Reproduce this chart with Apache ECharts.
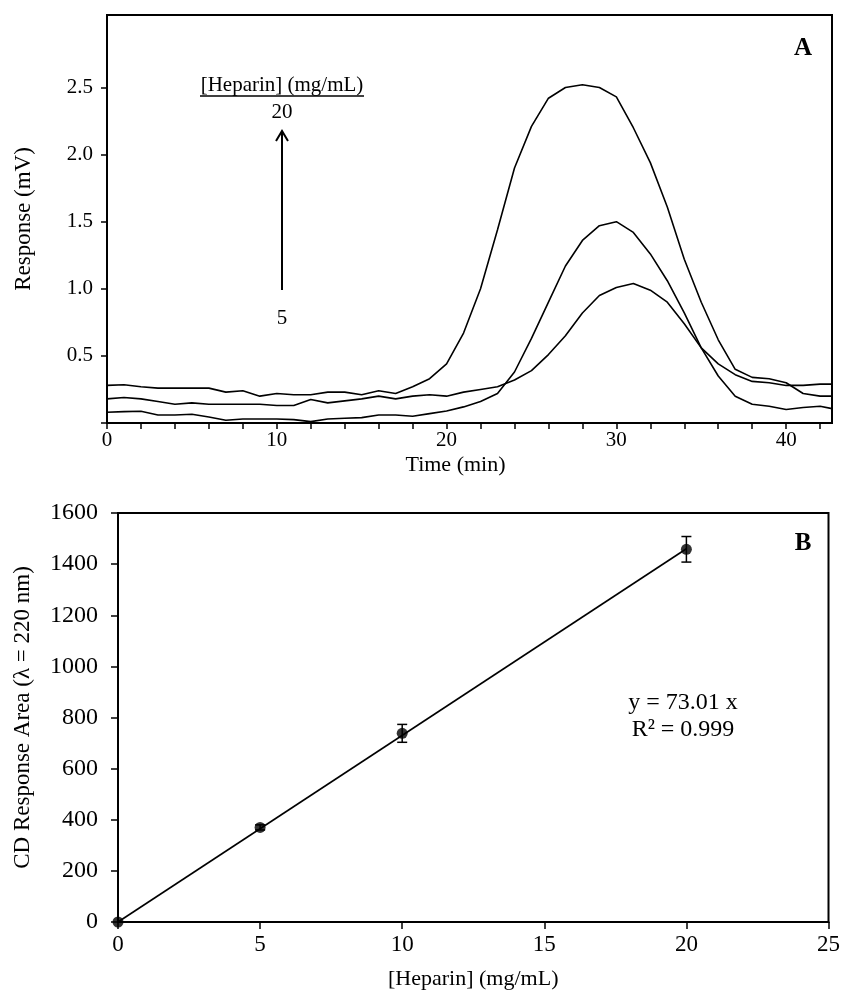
<!DOCTYPE html>
<html>
<head>
<meta charset="utf-8">
<script src="https://cdn.jsdelivr.net/npm/echarts@6/dist/echarts.min.js"></script>
<style>
html,body{margin:0;padding:0;background:#fff;}
#chart{width:843px;height:999px;}
</style>
</head>
<body>
<div id="chart"></div>
<script>
// ---- Panel A: chromatograms (Time in min, Response in mV) ----
const time = [0,1,2,3,4,5,6,7,8,9,10,11,12,13,14,15,16,17,18,19,20,21,22,23,24,25,26,27,28,29,30,31,32,33,34,35,36,37,38,39,40,41,42,42.7];
const resp20 = [0.28,0.285,0.27,0.26,0.26,0.26,0.26,0.23,0.24,0.20,0.22,0.21,0.21,0.23,0.23,0.21,0.24,0.22,0.27,0.33,0.44,0.67,1.00,1.44,1.90,2.21,2.42,2.50,2.52,2.50,2.43,2.20,1.94,1.61,1.22,0.90,0.62,0.40,0.34,0.33,0.30,0.22,0.20,0.20];
const resp10 = [0.08,0.085,0.087,0.06,0.06,0.065,0.045,0.02,0.03,0.03,0.03,0.025,0.01,0.03,0.035,0.04,0.06,0.06,0.05,0.07,0.09,0.12,0.16,0.22,0.38,0.63,0.90,1.17,1.36,1.47,1.50,1.42,1.26,1.06,0.82,0.56,0.35,0.20,0.14,0.125,0.10,0.115,0.125,0.107];
const resp5 = [0.18,0.19,0.18,0.16,0.14,0.15,0.14,0.14,0.14,0.14,0.13,0.13,0.175,0.15,0.165,0.18,0.20,0.18,0.20,0.21,0.20,0.23,0.25,0.27,0.32,0.39,0.51,0.65,0.82,0.95,1.01,1.04,0.99,0.90,0.74,0.56,0.44,0.36,0.31,0.30,0.28,0.28,0.29,0.29];
const timeTicks = [0,2,4,6,8,10,12,14,16,18,20,22,24,26,28,30,32,34,36,38,40,42];
const timeTickLabels = [0,10,20,30,40];
const respTicks = [0,0.5,1.0,1.5,2.0,2.5];
const respTickLabels = [0.5,1.0,1.5,2.0,2.5];

// ---- Panel B: calibration ----
const heparinConc = [0,5,10,20];
const cdArea = [0,370,738,1458];
const cdErr = [0,10,35,50];
const fitSlope = 73.01;
const fitR2 = 0.999;
const fitRange = [0,20];

const FONT = 'Liberation Serif';
const black = '#000';

const chart = echarts.init(document.getElementById('chart'), null, {renderer:'canvas'});

function lineData(ys){ return time.map((t,i)=>[t, ys[i]]); }

const option = {
  backgroundColor:'#fff',
  animation:false,
  textStyle:{fontFamily:FONT, color:black},
  grid:[
    {left:107, top:15, width:725, height:408, show:true, borderColor:black, borderWidth:2, backgroundColor:'transparent'},
    {left:118, top:513, width:715, height:409, show:true, borderColor:black, borderWidth:2, backgroundColor:'transparent'}
  ],
  xAxis:[
    {gridIndex:0, type:'value', min:0, max:42.7, interval:2,
     name:'Time (min)', nameLocation:'middle', nameGap:31,
     nameTextStyle:{fontFamily:FONT, fontSize:22, color:black, padding:[0,28,0,0]},
     axisLine:{show:true, lineStyle:{color:black, width:2}},
     axisTick:{show:true, inside:false, length:6, customValues:timeTicks, lineStyle:{color:black, width:1.5}},
     axisLabel:{show:true, margin:7, fontFamily:FONT, fontSize:21, color:black, customValues:timeTickLabels,
       formatter:v=>String(v)},
     splitLine:{show:false}},
    {gridIndex:1, type:'value', min:0, max:25, interval:5,
     name:'[Heparin] (mg/mL)', nameLocation:'middle', nameGap:46,
     nameTextStyle:{fontFamily:FONT, fontSize:22, color:black},
     axisLine:{show:true, lineStyle:{color:black, width:2}},
     axisTick:{show:true, inside:false, length:7, lineStyle:{color:black, width:1.5}},
     axisLabel:{show:true, margin:11, fontFamily:FONT, fontSize:23, color:black, formatter:v=>String(v)},
     splitLine:{show:false}}
  ],
  yAxis:[
    {gridIndex:0, type:'value', min:0, max:3.04, interval:0.5,
     name:'Response (mV)', nameLocation:'middle', nameGap:72, nameRotate:90,
     nameTextStyle:{fontFamily:FONT, fontSize:23, color:black},
     axisLine:{show:true, lineStyle:{color:black, width:2}},
     axisTick:{show:true, inside:false, length:6, customValues:respTicks, lineStyle:{color:black, width:1.5}},
     axisLabel:{show:true, margin:14, fontFamily:FONT, fontSize:21, color:black, customValues:respTickLabels,
       formatter:v=>(Math.round(v*10)/10).toFixed(1)},
     splitLine:{show:false}},
    {gridIndex:1, type:'value', min:0, max:1600, interval:200,
     name:'CD Response Area (\u03bb = 220 nm)', nameLocation:'middle', nameGap:84, nameRotate:90,
     nameTextStyle:{fontFamily:FONT, fontSize:23, color:black},
     axisLine:{show:true, lineStyle:{color:black, width:2}},
     axisTick:{show:true, inside:false, length:7, lineStyle:{color:black, width:1.5}},
     axisLabel:{show:true, margin:20, fontFamily:FONT, fontSize:24, color:black, formatter:v=>String(v)},
     splitLine:{show:false}}
  ],
  series:[
    {name:'20 mg/mL', type:'line', xAxisIndex:0, yAxisIndex:0, data:lineData(resp20), showSymbol:false, symbol:'none', lineStyle:{color:black, width:1.6}, z:3},
    {name:'10 mg/mL', type:'line', xAxisIndex:0, yAxisIndex:0, data:lineData(resp10), showSymbol:false, symbol:'none', lineStyle:{color:black, width:1.6}, z:3},
    {name:'5 mg/mL', type:'line', xAxisIndex:0, yAxisIndex:0, data:lineData(resp5), showSymbol:false, symbol:'none', lineStyle:{color:black, width:1.6}, z:3},
    {name:'Linear fit', type:'line', xAxisIndex:1, yAxisIndex:1, data:fitRange.map(x=>[x, fitSlope*x]), showSymbol:false, symbol:'none', lineStyle:{color:black, width:1.6}, z:3},
    {name:'CD area', type:'scatter', xAxisIndex:1, yAxisIndex:1, data:heparinConc.map((x,i)=>[x, cdArea[i]]), symbol:'circle', symbolSize:11, itemStyle:{color:black}, z:5, clip:false},
    {name:'Error', type:'custom', xAxisIndex:1, yAxisIndex:1, z:4,
     data:heparinConc.map((x,i)=>[x, cdArea[i]-cdErr[i], cdArea[i]+cdErr[i]]),
     encode:{x:0, y:[1,2]},
     renderItem:function(params, api){
       const x=api.value(0), lo=api.value(1), hi=api.value(2);
       if (hi-lo <= 0) return null;
       const pt=api.coord([x,hi]), pb=api.coord([x,lo]); const w=5;
       const st={stroke:black, lineWidth:1.5};
       return {type:'group', children:[
         {type:'line', shape:{x1:pt[0],y1:pt[1],x2:pb[0],y2:pb[1]}, style:st},
         {type:'line', shape:{x1:pt[0]-w,y1:pt[1],x2:pt[0]+w,y2:pt[1]}, style:st},
         {type:'line', shape:{x1:pb[0]-w,y1:pb[1],x2:pb[0]+w,y2:pb[1]}, style:st}
       ]};
     }}
  ],
  graphic:[
    {type:'text', x:803, y:49, style:{text:'A', font:'bold 25px "Liberation Serif"', fill:black, textAlign:'center', textVerticalAlign:'middle'}},
    {type:'text', x:803, y:544, style:{text:'B', font:'bold 25px "Liberation Serif"', fill:black, textAlign:'center', textVerticalAlign:'middle'}},
    {type:'text', x:282, y:85, style:{text:'[Heparin] (mg/mL)', font:'21px "Liberation Serif"', fill:black, textAlign:'center', textVerticalAlign:'middle'}},
    {type:'line', shape:{x1:200, y1:96, x2:364, y2:96}, style:{stroke:black, lineWidth:1.5}},
    {type:'text', x:282, y:112, style:{text:'20', font:'21px "Liberation Serif"', fill:black, textAlign:'center', textVerticalAlign:'middle'}},
    {type:'line', shape:{x1:282, y1:290, x2:282, y2:132}, style:{stroke:black, lineWidth:2}},
    {type:'polyline', shape:{points:[[276,141],[282,131],[288,141]]}, style:{stroke:black, lineWidth:2, fill:null}},
    {type:'text', x:282, y:318, style:{text:'5', font:'21px "Liberation Serif"', fill:black, textAlign:'center', textVerticalAlign:'middle'}},
    {type:'text', x:683, y:703, style:{text:'y = ' + fitSlope.toFixed(2) + ' x', font:'24px "Liberation Serif"', fill:black, textAlign:'center', textVerticalAlign:'middle'}},
    {type:'text', x:683, y:730, style:{text:'R\u00b2 = ' + fitR2.toFixed(3), font:'24px "Liberation Serif"', fill:black, textAlign:'center', textVerticalAlign:'middle'}}
  ]
};
chart.setOption(option);
</script>
</body>
</html>
